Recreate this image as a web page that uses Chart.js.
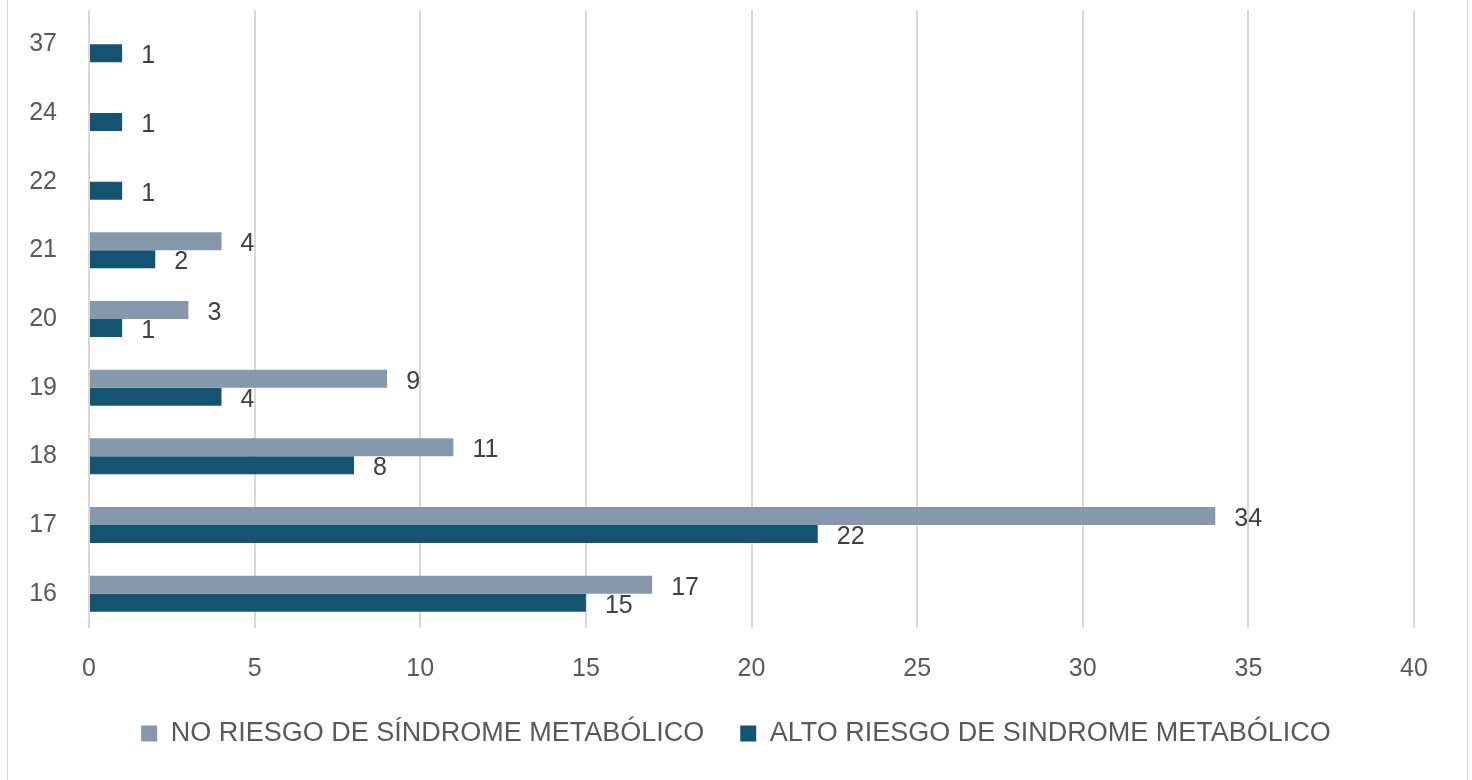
<!DOCTYPE html>
<html>
<head>
<meta charset="utf-8">
<script src="https://cdn.jsdelivr.net/npm/chart.js@4.4.1/dist/chart.umd.min.js"></script>
<style>
  html, body { margin: 0; padding: 0; background: #fff; }
  #wrap { width: 1472px; height: 780px; }
</style>
</head>
<body>
<div id="wrap"><canvas id="grafico" width="1472" height="780"></canvas></div>
<script>
// Edades (de arriba hacia abajo)
const categorias = ['37', '24', '22', '21', '20', '19', '18', '17', '16'];
const noRiesgo = [null, null, null, 4, 3, 9, 11, 34, 17];
const altoRiesgo = [1, 1, 1, 2, 1, 4, 8, 22, 15];
const xMax = 40;
const xPaso = 5;

const gris = '#595959';
const fuente = '"Liberation Sans", Arial, sans-serif';

// Etiquetas de valor al final de cada barra
const etiquetas = {
  id: 'etiquetas',
  afterDatasetsDraw(chart) {
    const { ctx } = chart;
    ctx.save();
    ctx.font = '25px ' + fuente;
    ctx.fillStyle = '#404040';
    ctx.textAlign = 'left';
    ctx.textBaseline = 'middle';
    chart.data.datasets.forEach((ds, i) => {
      const meta = chart.getDatasetMeta(i);
      meta.data.forEach((bar, j) => {
        const v = ds.data[j];
        if (v === null || v === undefined) return;
        ctx.fillText(String(v), bar.x + 19, bar.y + 3);
      });
    });
    ctx.restore();
  }
};

// Borde del area del grafico
const borde = {
  id: 'borde',
  beforeDraw(chart) {
    const { ctx, height } = chart;
    ctx.save();
    ctx.strokeStyle = '#d9d9d9';
    ctx.lineWidth = 1;
    ctx.beginPath();
    ctx.moveTo(7.5, 0); ctx.lineTo(7.5, height);
    ctx.moveTo(1467.5, 0); ctx.lineTo(1467.5, height);
    ctx.stroke();
    ctx.restore();
  }
};

new Chart(document.getElementById('grafico'), {
  type: 'bar',
  data: {
    labels: categorias,
    datasets: [
      {
        label: 'NO RIESGO DE SÍNDROME METABÓLICO',
        data: noRiesgo,
        backgroundColor: '#8698AB',
        barPercentage: 1,
        categoryPercentage: 0.525
      },
      {
        label: 'ALTO RIESGO DE SINDROME METABÓLICO',
        data: altoRiesgo,
        backgroundColor: '#155470',
        barPercentage: 1,
        categoryPercentage: 0.525
      }
    ]
  },
  options: {
    indexAxis: 'y',
    responsive: false,
    animation: false,
    devicePixelRatio: 1,
    layout: { padding: { top: 10, right: 0, bottom: 23, left: 0 } },
    scales: {
      x: {
        min: 0,
        max: xMax,
        afterFit(scale) {
          scale.height = 56;
          scale.paddingRight = 58;
        },
        grid: { color: '#d9d9d9', lineWidth: 2, drawTicks: false },
        border: { display: false },
        ticks: {
          stepSize: xPaso,
          padding: 26,
          color: gris,
          font: { size: 25, family: fuente }
        }
      },
      y: {
        afterFit(scale) {
          scale.width = 89;
          scale.paddingTop = 0;
          scale.paddingBottom = 0;
        },
        grid: { display: false, drawTicks: false },
        border: { display: false },
        ticks: {
          padding: 32,
          color: gris,
          font: { size: 25, family: fuente }
        }
      }
    },
    plugins: {
      tooltip: { enabled: false },
      legend: {
        position: 'bottom',
        labels: {
          boxWidth: 16,
          boxHeight: 16,
          padding: 36,
          color: gris,
          font: { size: 27, family: fuente }
        }
      }
    }
  },
  plugins: [etiquetas, borde]
});
</script>
</body>
</html>
